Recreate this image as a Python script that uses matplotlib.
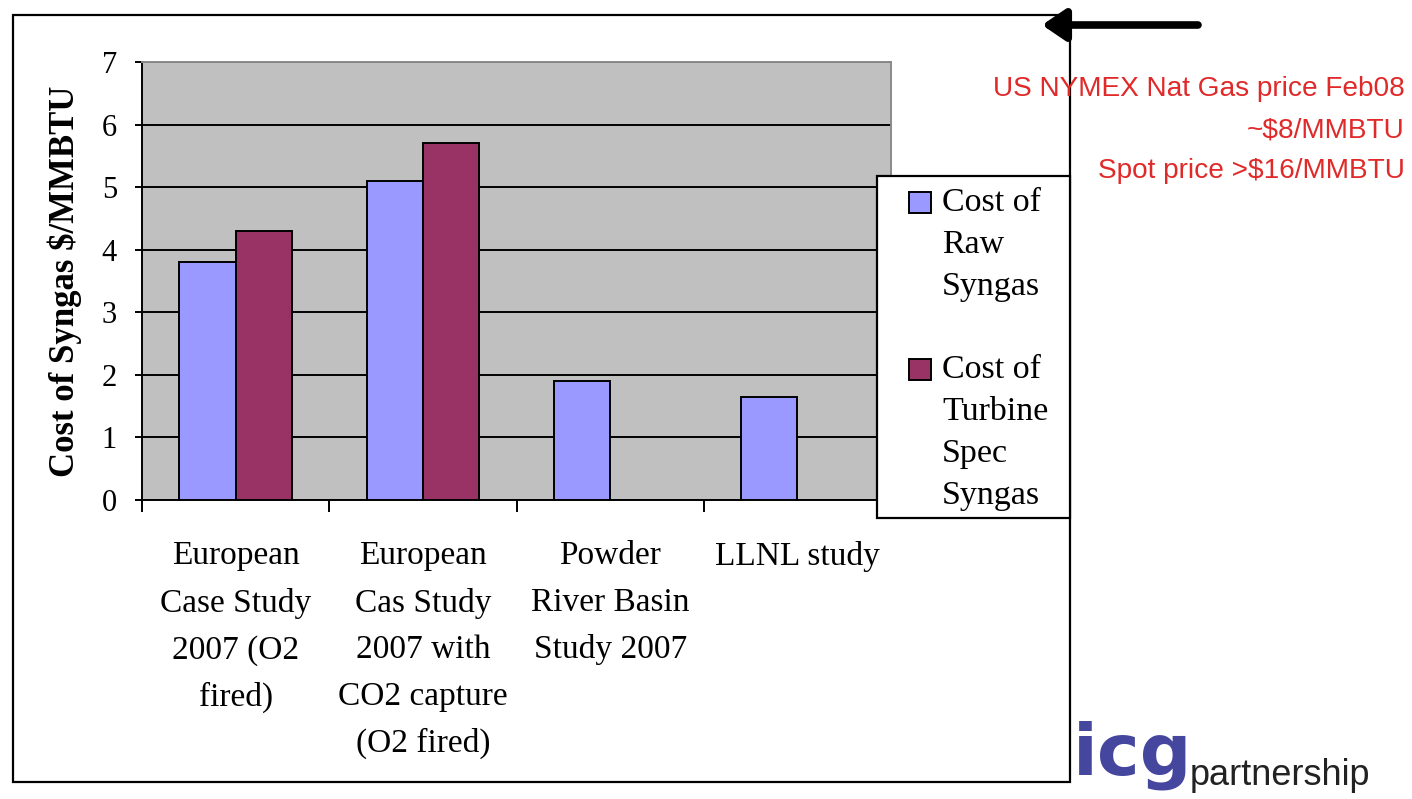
import numpy as np
import matplotlib
matplotlib.use("Agg")
import matplotlib.pyplot as plt
from matplotlib.patches import Rectangle, FancyArrowPatch

# ---- data ----
categories = ["European\nCase Study\n2007 (O2\nfired)",
              "European\nCas Study\n2007 with\nCO2 capture\n(O2 fired)",
              "Powder\nRiver Basin\nStudy 2007",
              "LLNL study"]
raw_syngas = [3.8, 5.1, 1.9, 1.65]
turbine_syngas = [4.3, 5.7, np.nan, np.nan]
series_names = [["Cost of", "Raw", "Syngas"],
                ["Cost of", "Turbine", "Spec", "Syngas"]]
note_lines = ["US NYMEX Nat Gas price Feb08", "~$8/MMBTU", "Spot price >$16/MMBTU"]
y_ticks = [0, 1, 2, 3, 4, 5, 6, 7]

W, H = 1412, 799
def fx(px): return px / W
def fy(py): return 1 - py / H

plt.rcParams['font.family'] = ['Liberation Serif', 'DejaVu Serif']
raw_color = '#9999FF'
turb_color = '#993366'

fig = plt.figure(figsize=(W / 100, H / 100), dpi=100)
ax = fig.add_axes([fx(142), fy(500), fx(891) - fx(142), fy(62) - fy(500)])
ax.set_facecolor('#C0C0C0')

x = np.arange(len(categories))
bw = 0.3
ax.bar(x - bw / 2, raw_syngas, bw, color=raw_color, edgecolor='black', linewidth=1.4, zorder=3)
ax.bar(x + bw / 2, turbine_syngas, bw, color=turb_color, edgecolor='black', linewidth=1.4, zorder=3)

ax.set_xlim(-0.5, len(categories) - 0.5)
ax.set_ylim(0, 7)
ax.set_yticks(y_ticks)
ax.set_yticklabels([str(v) for v in y_ticks], fontsize=22)
ax.yaxis.grid(True, color='black', linewidth=1.4, zorder=1)
ax.set_axisbelow(True)
ax.tick_params(axis='y', length=5, width=1.4, pad=13, direction='out')

ax.set_xticks(x)
ax.set_xticklabels(categories, fontsize=24, linespacing=1.68)
ax.tick_params(axis='x', which='major', length=0, pad=29.5)
ax.set_xticks(np.arange(len(categories) + 1) - 0.5, minor=True)
ax.tick_params(axis='x', which='minor', length=8.5, width=1.4, direction='out')

for s in ['top', 'right']:
    ax.spines[s].set_color('#8a8a8a')
    ax.spines[s].set_linewidth(1.4)
for s in ['left', 'bottom']:
    ax.spines[s].set_color('black')
    ax.spines[s].set_linewidth(1.4)

ax.set_ylabel("Cost of Syngas $/MMBTU", fontsize=25, fontweight='bold', labelpad=14)

# outer frame
fig.add_artist(Rectangle((fx(13), fy(782)), fx(1070) - fx(13), fy(15) - fy(782),
                         transform=fig.transFigure, fill=False, edgecolor='black',
                         linewidth=1.6, zorder=5))

# legend box drawn by hand
fig.add_artist(Rectangle((fx(877), fy(518)), fx(1070) - fx(877), fy(176) - fy(518),
                         transform=fig.transFigure, facecolor='white', edgecolor='black',
                         linewidth=1.6, zorder=6))
leg_colors = [raw_color, turb_color]
leg_start = [203, 370]
for name, col, y0 in zip(series_names, leg_colors, leg_start):
    fig.add_artist(Rectangle((fx(909), fy(y0 + 10)), fx(931) - fx(909), fy(y0 - 11) - fy(y0 + 10),
                             transform=fig.transFigure, facecolor=col, edgecolor='black',
                             linewidth=1.4, zorder=7))
    for k, line in enumerate(name):
        fig.text(fx(942), fy(y0 + k * 42), line, fontsize=24.5, ha='left', va='center', zorder=7)

# arrow at the top right
fig.add_artist(FancyArrowPatch(
    (fx(1198), fy(25)), (fx(1042), fy(25)), transform=fig.transFigure,
    arrowstyle='-|>,head_length=14,head_width=9.5', mutation_scale=1,
    shrinkA=0, shrinkB=0, color='black', linewidth=5.5, zorder=8))

# red note
for k, line in enumerate(note_lines):
    fig.text(fx(1405), fy(89 + k * 41), line, fontsize=20.2, color='#E02A2A',
             ha='right', va='center', family='Liberation Sans', zorder=8)

# logo
fig.text(fx(1073), fy(774), "icg", fontsize=52, fontweight='bold', color='#45479f',
         ha='left', va='baseline', family='DejaVu Sans', zorder=8)
fig.text(fx(1190), fy(785), "partnership", fontsize=26, color='#222222',
         ha='left', va='baseline', family='Liberation Sans', zorder=8)

fig.savefig("out.png", dpi=100)
